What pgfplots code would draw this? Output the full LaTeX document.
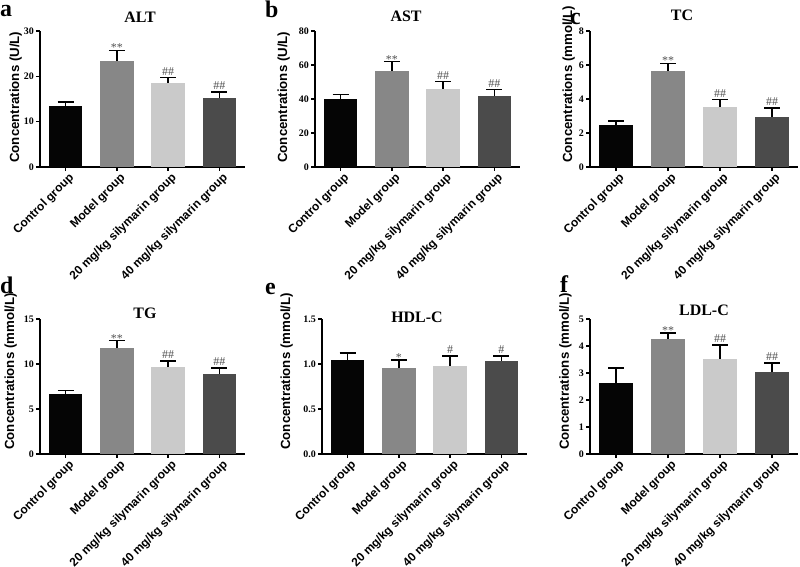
\documentclass[border=0pt]{standalone}
\usepackage{fontspec}
\setmainfont{Liberation Serif}
\newfontfamily\sansfont{Liberation Sans}
\usepackage{pgfplots}
\pgfplotsset{compat=1.18}

\definecolor{cctl}{HTML}{050505}
\definecolor{cmod}{HTML}{878787}
\definecolor{clow}{HTML}{CACACA}
\definecolor{chigh}{HTML}{4B4B4B}
\definecolor{cmark}{HTML}{505050}

\pgfplotsset{
  panel/.style={
    scale only axis, anchor=south west, clip=false,
    xmin=-0.5, xmax=3.5, ymin=0,
    axis lines*=left, axis line style={line width=1.5bp, -},
    tick align=outside, major tick length=4bp,
    tick style={line width=1.5bp, black},
    xtick={0,1,2,3},
    xticklabels={Control group, Model group, 20 mg/kg silymarin group, 40 mg/kg silymarin group},
    xticklabel style={font=\sansfont\bfseries\fontsize{12}{12}\selectfont, xshift=8bp, yshift=-3.5bp, rotate=45, anchor=east, inner sep=2bp},
    yticklabel style={font=\bfseries\fontsize{10}{10}\selectfont, inner sep=2bp},
    /pgf/number format/assume math mode=true,
    ylabel style={font=\sansfont\bfseries\fontsize{13.3}{13.3}\selectfont, anchor=south west, inner sep=0pt},
    bar width=0.65,
  },
  errb/.style={ybar, bar shift=0pt, draw=none,
      error bars/.cd, y dir=plus, y explicit,
      error bar style={draw=black, solid, line width=1.6bp},
      error mark options={rotate=90, draw=black, solid, line width=1.6bp, mark size=8bp}},
}
\tikzset{
  ast/.style={anchor=base, yshift=-1.5bp, inner sep=0pt, text=cmark, font=\fontsize{12}{12}\selectfont},
  hash/.style={anchor=base, yshift=2.3bp, inner sep=0pt, text=cmark, font=\fontsize{12}{12}\selectfont},
}

\begin{document}
\begin{tikzpicture}
\path[use as bounding box] (0bp,0bp) rectangle (800bp,567bp);

% panel letters and titles
\node[anchor=base west, inner sep=0pt, font=\bfseries\fontsize{24}{24}\selectfont] at (0bp,550bp) {a};
\node[anchor=base west, inner sep=0pt, font=\bfseries\fontsize{24}{24}\selectfont] at (265bp,549bp) {b};
\node[anchor=base west, inner sep=0pt, font=\bfseries\fontsize{24}{24}\selectfont] at (570bp,542bp) {c};
\node[anchor=base west, inner sep=0pt, font=\bfseries\fontsize{24}{24}\selectfont] at (0bp,273bp) {d};
\node[anchor=base west, inner sep=0pt, font=\bfseries\fontsize{24}{24}\selectfont] at (265bp,272bp) {e};
\node[anchor=base west, inner sep=0pt, font=\bfseries\fontsize{24}{24}\selectfont] at (560bp,274bp) {f};

\node[anchor=base, inner sep=0pt, font=\bfseries\fontsize{16}{16}\selectfont] at (140bp,544bp) {ALT};
\node[anchor=base, inner sep=0pt, font=\bfseries\fontsize{16}{16}\selectfont] at (406bp,545bp) {AST};
\node[anchor=base, inner sep=0pt, font=\bfseries\fontsize{16}{16}\selectfont] at (682bp,546bp) {TC};
\node[anchor=base, inner sep=0pt, font=\bfseries\fontsize{16}{16}\selectfont] at (145bp,248bp) {TG};
\node[anchor=base, inner sep=0pt, font=\bfseries\fontsize{16}{16}\selectfont] at (417bp,244bp) {HDL-C};
\node[anchor=base, inner sep=0pt, font=\bfseries\fontsize{16}{16}\selectfont] at (704bp,251bp) {LDL-C};

% a: ALT
\begin{axis}[panel, at={(40bp,400bp)}, width=205bp, height=136bp,
  ymax=30, ytick={0,10,20,30}, ylabel={Concentrations (U/L)},
  ylabel style={at={(rel axis cs:-0.088,0.03)}}]
  \addplot[fill=cctl, errb]  coordinates {(0,13.45) +- (0,0.95)};
  \addplot[fill=cmod, errb]  coordinates {(1,23.4) +- (0,2.3)};
  \addplot[fill=clow, errb]  coordinates {(2,18.5) +- (0,1.2)};
  \addplot[fill=chigh, errb] coordinates {(3,15.3) +- (0,1.2)};
  \node[ast]  at (axis cs:1,25.7) {**};
  \node[hash] at (axis cs:2,19.7) {\#\#};
  \node[hash] at (axis cs:3,16.5) {\#\#};
\end{axis}

% b: AST
\begin{axis}[panel, at={(315bp,400bp)}, width=205bp, height=136bp,
  ymax=80, ytick={0,20,40,60,80}, ylabel={Concentrations (U/L)},
  ylabel style={at={(rel axis cs:-0.122,0.03)}}]
  \addplot[fill=cctl, errb]  coordinates {(0,40.2) +- (0,2.4)};
  \addplot[fill=cmod, errb]  coordinates {(1,56.5) +- (0,5.5)};
  \addplot[fill=clow, errb]  coordinates {(2,46.1) +- (0,4.3)};
  \addplot[fill=chigh, errb] coordinates {(3,41.8) +- (0,3.7)};
  \node[ast]  at (axis cs:1,62.0) {**};
  \node[hash] at (axis cs:2,50.4) {\#\#};
  \node[hash] at (axis cs:3,45.5) {\#\#};
\end{axis}

% c: TC
\begin{axis}[panel, at={(590bp,400bp)}, width=208bp, height=136bp,
  ymax=8, ytick={0,2,4,6,8}, ylabel={Concentrations (mmol/L)},
  ylabel style={at={(rel axis cs:-0.072,0.03)}}]
  \addplot[fill=cctl, errb]  coordinates {(0,2.46) +- (0,0.25)};
  \addplot[fill=cmod, errb]  coordinates {(1,5.66) +- (0,0.43)};
  \addplot[fill=clow, errb]  coordinates {(2,3.54) +- (0,0.43)};
  \addplot[fill=chigh, errb] coordinates {(3,2.95) +- (0,0.53)};
  \node[ast]  at (axis cs:1,6.09) {**};
  \node[hash] at (axis cs:2,3.97) {\#\#};
  \node[hash] at (axis cs:3,3.48) {\#\#};
\end{axis}

% d: TG
\begin{axis}[panel, at={(40bp,113bp)}, width=205bp, height=135bp,
  ymax=15, ytick={0,5,10,15}, ylabel={Concentrations (mmol/L)},
  ylabel style={at={(rel axis cs:-0.112,0.03)}}]
  \addplot[fill=cctl, errb]  coordinates {(0,6.68) +- (0,0.37)};
  \addplot[fill=cmod, errb]  coordinates {(1,11.8) +- (0,0.8)};
  \addplot[fill=clow, errb]  coordinates {(2,9.64) +- (0,0.7)};
  \addplot[fill=chigh, errb] coordinates {(3,8.87) +- (0,0.66)};
  \node[ast]  at (axis cs:1,12.6) {**};
  \node[hash] at (axis cs:2,10.34) {\#\#};
  \node[hash] at (axis cs:3,9.53) {\#\#};
\end{axis}

% e: HDL-C
\begin{axis}[panel, at={(322bp,113bp)}, width=205bp, height=135bp,
  ymax=1.5, ytick={0,0.5,1,1.5}, ylabel={Concentrations (mmol/L)},
  ylabel style={at={(rel axis cs:-0.141,0.03)}},
  yticklabel style={/pgf/number format/.cd, fixed, fixed zerofill, precision=1}]
  \addplot[fill=cctl, errb]  coordinates {(0,1.045) +- (0,0.075)};
  \addplot[fill=cmod, errb]  coordinates {(1,0.953) +- (0,0.092)};
  \addplot[fill=clow, errb]  coordinates {(2,0.982) +- (0,0.108)};
  \addplot[fill=chigh, errb] coordinates {(3,1.038) +- (0,0.052)};
  \node[ast]  at (axis cs:1,1.045) {*};
  \node[hash] at (axis cs:2,1.09) {\#};
  \node[hash] at (axis cs:3,1.09) {\#};
\end{axis}

% f: LDL-C
\begin{axis}[panel, at={(590bp,113bp)}, width=208bp, height=135bp,
  ymax=5, ytick={0,1,2,3,4,5}, ylabel={Concentrations (mmol/L)},
  ylabel style={at={(rel axis cs:-0.087,0.03)}}]
  \addplot[fill=cctl, errb]  coordinates {(0,2.62) +- (0,0.57)};
  \addplot[fill=cmod, errb]  coordinates {(1,4.26) +- (0,0.23)};
  \addplot[fill=clow, errb]  coordinates {(2,3.52) +- (0,0.52)};
  \addplot[fill=chigh, errb] coordinates {(3,3.03) +- (0,0.33)};
  \node[ast]  at (axis cs:1,4.49) {**};
  \node[hash] at (axis cs:2,4.04) {\#\#};
  \node[hash] at (axis cs:3,3.36) {\#\#};
\end{axis}
\end{tikzpicture}
\end{document}
